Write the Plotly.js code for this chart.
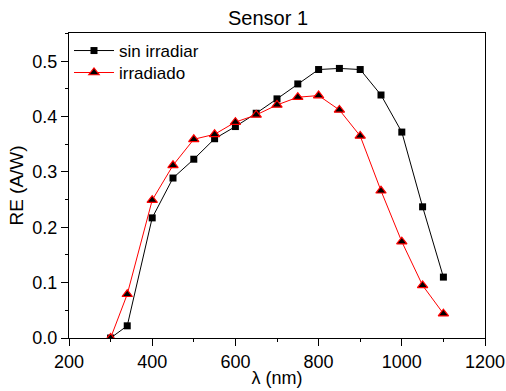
<!DOCTYPE html>
<html>
<head>
<meta charset="utf-8">
<script src="https://cdn.plot.ly/plotly-3.0.1.min.js"></script>
<style>html,body{margin:0;padding:0;background:#fff}#chart{width:506px;height:391px}</style>
</head>
<body>
<div id="chart"></div>
<script>
const wavelength = [300, 340, 400, 450, 500, 550, 600, 650, 700, 750, 800, 850, 900, 950, 1000, 1050, 1100];
const sinIrradiar = [0.0, 0.022, 0.217, 0.289, 0.323, 0.360, 0.382, 0.406, 0.432, 0.459, 0.485, 0.487, 0.485, 0.439, 0.372, 0.237, 0.110];
const irradiado = [0.0, 0.079, 0.249, 0.312, 0.359, 0.368, 0.390, 0.403, 0.421, 0.435, 0.438, 0.412, 0.365, 0.266, 0.174, 0.095, 0.044];
const xTicks = [200, 400, 600, 800, 1000, 1200];
const yTicks = [0.0, 0.1, 0.2, 0.3, 0.4, 0.5];

const font = {family: 'Liberation Sans, Arial, sans-serif', color: '#000'};
const f = s => Object.assign({size: s}, font);

const traces = [
  {x: wavelength, y: sinIrradiar, name: 'sin irradiar', mode: 'lines+markers', legend: 'legend',
   line: {color: '#000', width: 1}, marker: {symbol: 'square', size: 7, color: '#000'}},
  {x: wavelength, y: irradiado, name: 'irradiado', mode: 'lines+markers', legend: 'legend2',
   line: {color: '#ff0000', width: 1}, marker: {symbol: 'triangle-up', size: 9, color: '#000', line: {color: '#ff0000', width: 1.2}}}
];

const legendBase = {xanchor: 'left', yanchor: 'middle', bgcolor: 'rgba(0,0,0,0)', font: f(17), itemwidth: 40};

const layout = {
  width: 506, height: 391,
  margin: {l: 69, r: 21, t: 33, b: 53},
  paper_bgcolor: '#fff', plot_bgcolor: '#fff',
  font: f(18),
  title: {text: 'Sensor 1', font: f(20), x: 268 / 506, xanchor: 'center', xref: 'container', y: 0.955, yanchor: 'middle'},
  showlegend: true,
  legend: Object.assign({x: 0.0, y: 0.941}, legendBase),
  legend2: Object.assign({x: 0.0, y: 0.869}, legendBase),
  xaxis: {
    range: [200, 1200], tickvals: xTicks, ticktext: xTicks.map(String),
    ticks: 'outside', ticklen: 7, tickwidth: 1, tickcolor: '#000',
    minor: {dtick: 100, tick0: 200, ticks: 'outside', ticklen: 3, tickwidth: 1, tickcolor: '#000'},
    showline: true, linecolor: '#000', linewidth: 1, mirror: true, showgrid: false, zeroline: false,
    tickfont: f(18),
    title: {text: 'λ (nm)', font: f(18), standoff: 0}
  },
  yaxis: {
    range: [0, 0.551], tickvals: yTicks, ticktext: yTicks.map(v => v.toFixed(1)),
    ticks: 'outside', ticklen: 7, tickwidth: 1, tickcolor: '#000',
    minor: {dtick: 0.05, tick0: 0, ticks: 'outside', ticklen: 3, tickwidth: 1, tickcolor: '#000'},
    showline: true, linecolor: '#000', linewidth: 1, mirror: true, showgrid: false, zeroline: false,
    tickfont: f(18),
    title: {text: 'RE (A/W)', font: f(19), standoff: 3}
  }
};

Plotly.newPlot('chart', traces, layout, {staticPlot: true, displayModeBar: false});
</script>
</body>
</html>
